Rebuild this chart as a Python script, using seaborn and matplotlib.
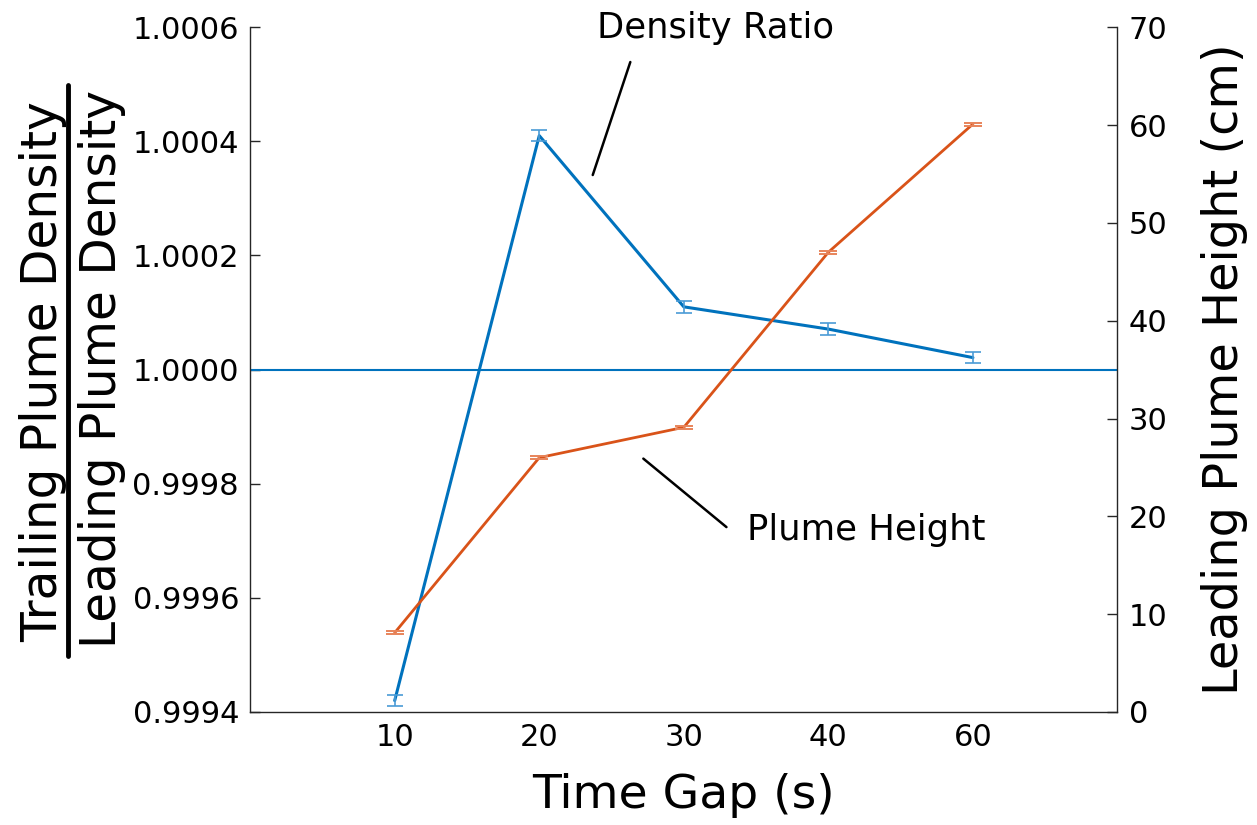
import numpy as np
import pandas as pd
import matplotlib
matplotlib.use("Agg")
import matplotlib.pyplot as plt
from matplotlib.lines import Line2D
import seaborn as sns

# ---- data ----
time_gaps = ["10", "20", "30", "40", "60"]
density_ratio = [0.99942, 1.00041, 1.00011, 1.000071, 1.000021]
density_err = [0.00001, 0.00001, 0.00001, 0.00001, 0.00001]
plume_height = [8.1, 26.0, 29.1, 47.0, 60.1]
height_err = [0.15, 0.15, 0.15, 0.15, 0.15]
left_ticks = [0.9994, 0.9996, 0.9998, 1.0000, 1.0002, 1.0004, 1.0006]
right_ticks = [0, 10, 20, 30, 40, 50, 60, 70]

BLUE = "#0072BD"
BLUE_ERR = "#4A9BD6"
ORANGE = "#D95319"
ORANGE_ERR = "#E8845A"

sns.set_theme(style="white")
plt.rcParams["font.family"] = ["DejaVu Sans"]

pos = np.arange(1, len(time_gaps) + 1)
df = pd.DataFrame({"pos": pos, "ratio": density_ratio, "height": plume_height})

fig = plt.figure(figsize=(12.57, 8.25), dpi=100)
ax = fig.add_axes([0.199, 0.137, 0.690, 0.830])
ax2 = ax.twinx()

# horizontal reference line
ax.axhline(1.0, color=BLUE, lw=1.5, zorder=1)

sns.lineplot(data=df, x="pos", y="ratio", ax=ax, color=BLUE, lw=2.2, zorder=3)
ax.errorbar(pos, density_ratio, yerr=density_err, fmt="none", ecolor=BLUE_ERR,
            elinewidth=1.2, capsize=6, capthick=1.2, zorder=4)

sns.lineplot(data=df, x="pos", y="height", ax=ax2, color=ORANGE, lw=2.0, zorder=3)
ax2.errorbar(pos, plume_height, yerr=height_err, fmt="none", ecolor=ORANGE_ERR,
             elinewidth=1.2, capsize=6.5, capthick=1.4, zorder=4)

ax.set_xlim(0, 6)
ax.set_ylim(0.9994, 1.0006)
ax2.set_ylim(0, 70)
ax.set_xticks(pos)
ax.set_xticklabels(time_gaps)
ax.set_yticks(left_ticks)
ax.set_yticklabels([f"{t:.4f}" for t in left_ticks])
ax2.set_yticks(right_ticks)
ax2.set_yticklabels([str(t) for t in right_ticks])

for a in (ax, ax2):
    a.spines["top"].set_visible(False)
    for s in a.spines.values():
        s.set_color("#262626")
        s.set_linewidth(1.0)
    a.tick_params(direction="in", length=7, width=1, color="#262626",
                  labelsize=22, labelcolor="black", pad=8)
ax.spines["right"].set_visible(False)
ax2.spines["left"].set_visible(False)
ax2.spines["bottom"].set_visible(False)

ax.set_xlabel("Time Gap (s)", fontsize=34, labelpad=15, color="black")
ax.set_ylabel("")
ax2.set_ylabel("Leading Plume Height (cm)", fontsize=34.5, labelpad=24, color="black")

# fraction y-label
fig.text(0.034, 0.550, "Trailing Plume Density", rotation=90, fontsize=35,
         ha="center", va="center", color="black")
fig.text(0.081, 0.553, "Leading Plume Density", rotation=90, fontsize=35,
         ha="center", va="center", color="black")
fig.add_artist(Line2D([0.054, 0.054], [0.205, 0.897], transform=fig.transFigure,
                      color="black", lw=3.5))

# annotations
ax.annotate("", xy=(2.37, 1.000341), xytext=(2.63, 1.000539),
            arrowprops=dict(arrowstyle="-", color="black", lw=1.8,
                            shrinkA=0, shrinkB=0))
fig.text(0.569, 0.966, "Density Ratio", fontsize=25.5, ha="center", va="center",
         color="black")
ax.annotate("", xy=(2.72, 0.999844), xytext=(3.295, 0.999724),
            arrowprops=dict(arrowstyle="-", color="black", lw=1.8,
                            shrinkA=0, shrinkB=0))
fig.text(0.689, 0.357, "Plume Height", fontsize=25.5, ha="center", va="center",
         color="black")

fig.savefig("out.png", dpi=100)
